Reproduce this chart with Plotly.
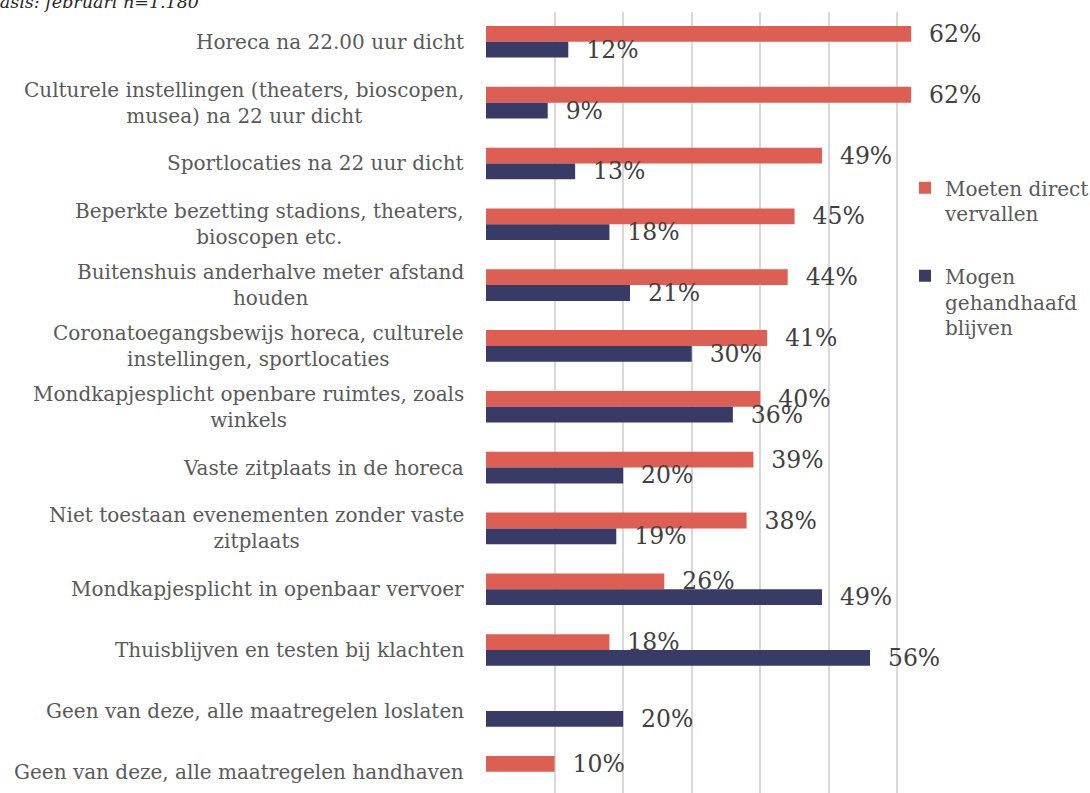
import plotly.graph_objects as go

categories = [
    "Horeca na 22.00 uur dicht",
    "Culturele instellingen (theaters, bioscopen,<br>musea) na 22 uur dicht",
    "Sportlocaties na 22 uur dicht",
    "Beperkte bezetting stadions, theaters,<br>bioscopen etc.",
    "Buitenshuis anderhalve meter afstand<br>houden",
    "Coronatoegangsbewijs horeca, culturele<br>instellingen, sportlocaties",
    "Mondkapjesplicht openbare ruimtes, zoals<br>winkels",
    "Vaste zitplaats in de horeca",
    "Niet toestaan evenementen zonder vaste<br>zitplaats",
    "Mondkapjesplicht in openbaar vervoer",
    "Thuisblijven en testen bij klachten",
    "Geen van deze, alle maatregelen loslaten",
    "Geen van deze, alle maatregelen handhaven",
]
vervallen = [62, 62, 49, 45, 44, 41, 40, 39, 38, 26, 18, None, 10]
gehandhaafd = [12, 9, 13, 18, 21, 30, 36, 20, 19, 49, 56, 20, None]
series_names = ["Moeten direct<br>vervallen", "Mogen<br>gehandhaafd<br>blijven"]
x_ticks = [0, 10, 20, 30, 40, 50, 60, 70]
title_text = "Basis: februari n=1.180"

RED = "#DD5E53"
NAVY = "#383B66"
FONT = "DejaVu Serif"

ypos = list(range(len(categories)))

fig = go.Figure()
for name, vals, col, grp in [(series_names[0], vervallen, RED, "a"),
                             (series_names[1], gehandhaafd, NAVY, "b")]:
    fig.add_trace(go.Bar(
        y=ypos, x=vals, orientation="h", name=name,
        marker=dict(color=col, line=dict(width=0)),
        text=[None if v is None else f"\u00a0\u00a0{v}%" for v in vals],
        textposition="outside", cliponaxis=False, constraintext="none",
        textfont=dict(family=FONT, size=23.5, color="#404040"),
        legendgroup=grp, hoverinfo="x+name",
    ))

for i, c in enumerate(categories):
    fig.add_annotation(
        x=0, xref="paper", y=i, yref="y", text=c, showarrow=False,
        xanchor="right", yanchor="middle", align="center", xshift=-20,
        font=dict(family=FONT, size=20, color="#595959"),
    )

fig.add_annotation(
    x=(201 - 486) / 480, xref="paper", y=1, yref="paper", text=f"<i>{title_text}</i>",
    showarrow=False, xanchor="right", yanchor="bottom", yshift=-2,
    font=dict(family=FONT, size=17.5, color="#262626"),
)

fig.update_layout(
    width=1090, height=793,
    margin=dict(l=486, r=124, t=12, b=0, pad=0, autoexpand=False),
    paper_bgcolor="white", plot_bgcolor="white",
    barmode="group", bargap=0.48, bargroupgap=0,
    showlegend=True,
    legend=dict(
        x=(905 - 486) / 480, xanchor="left", y=0.800, yanchor="top",
        font=dict(family=FONT, size=20, color="#595959"),
        valign="top", itemwidth=30, tracegroupgap=33,
        bgcolor="rgba(0,0,0,0)", traceorder="grouped",
    ),
    xaxis=dict(range=[0, 70], tickvals=x_ticks, showticklabels=False,
               showgrid=True, gridcolor="#D9D9D9", gridwidth=1.6,
               zeroline=False, showline=False, fixedrange=True),
    yaxis=dict(range=[12.35, -0.49], showticklabels=False, showgrid=False,
               zeroline=False, showline=False, tickvals=ypos, fixedrange=True),
    font=dict(family=FONT),
)

fig.write_html("out.html", config={"displayModeBar": False},
               post_script="document.body.style.margin='0';")
